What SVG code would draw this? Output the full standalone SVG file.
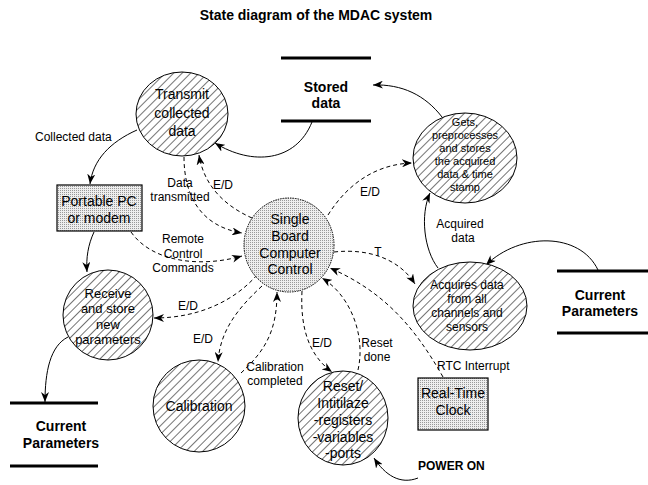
<svg xmlns="http://www.w3.org/2000/svg" width="648" height="485" viewBox="0 0 648 485">
<defs>
<pattern id="hatch" patternUnits="userSpaceOnUse" width="6" height="6" patternTransform="rotate(45)">
<rect width="6" height="6" fill="#fff"/>
<line x1="0" y1="0" x2="0" y2="6" stroke="#000" stroke-width="1.1"/>
</pattern>
<pattern id="dots" patternUnits="userSpaceOnUse" width="2" height="2">
<rect width="2" height="2" fill="#eeeeee"/>
<rect width="1" height="1" fill="#999"/>
</pattern>
<marker id="arr" markerUnits="userSpaceOnUse" markerWidth="10" markerHeight="8" refX="10" refY="4" orient="auto">
<path d="M0,0 L10,4 L0,8 L3,4 z" fill="#000"/>
</marker>
</defs>
<style>
text{font-family:"Liberation Sans",Arial,sans-serif;fill:#000}
.t{text-anchor:middle}
.b{font-weight:bold}
.n14{font-size:14px}
.n13{font-size:13px}
.n12{font-size:12px}
.n11{font-size:11px}
.lbl{font-size:12px}
.hc{fill:url(#hatch);stroke:#000;stroke-width:1}
.dc{fill:url(#dots);stroke:#000;stroke-width:1;stroke-dasharray:1.5,1}
.box{fill:url(#dots);stroke:#000;stroke-width:1.2}
.store{stroke:#000;stroke-width:3}
.sl{fill:none;stroke:#000;stroke-width:1;marker-end:url(#arr)}
.dl{fill:none;stroke:#000;stroke-width:1;stroke-dasharray:4,3;marker-end:url(#arr)}
</style>
<text class="t b" x="316" y="20" font-size="14">State diagram of the MDAC system</text>

<g id="connectors">
<path class="sl" d="M137,130 C110,142 93,160 90,184"/>
<path class="sl" d="M94,232 C88,245 86,258 87,272"/>
<path class="sl" d="M68,337 C50,346 45,372 45,402"/>
<path class="sl" d="M312,122 C296,162 252,166 215,143"/>
<path class="sl" d="M442,117 C425,95 402,84 373,85"/>
<path class="sl" d="M598,270 C580,232 520,232 486,265"/>
<path class="sl" d="M438,268 C424,250 420,215 430,193"/>
<path class="sl" d="M418,478 C400,485 385,475 374,458"/>
<path class="dl" d="M184,157 C184,195 200,226 242,233"/>
<path class="dl" d="M252,218 C225,206 204,186 199,155"/>
<path class="dl" d="M131,232 C152,262 200,268 242,256"/>
<path class="dl" d="M257,275 C235,300 200,318 154,318"/>
<path class="dl" d="M262,286 C236,310 220,332 218,362"/>
<path class="dl" d="M241,373 C266,350 277,330 277,292"/>
<path class="dl" d="M302,291 C300,330 310,356 332,372"/>
<path class="dl" d="M358,370 C366,335 350,295 322,278"/>
<path class="dl" d="M443,377 C412,322 380,290 330,268"/>
<path class="dl" d="M334,252 C370,248 400,260 415,284"/>
<path class="dl" d="M328,215 C350,180 380,164 412,163"/>
<text class="lbl" x="35" y="141">Collected data</text>
<text class="lbl t" x="180" y="187">Data</text>
<text class="lbl t" x="180" y="201">transmitted</text>
<text class="lbl t" x="223" y="189">E/D</text>
<text class="lbl t" x="183" y="243">Remote</text>
<text class="lbl t" x="183" y="258">Control</text>
<text class="lbl t" x="183" y="272">Commands</text>
<text class="lbl t" x="188" y="310">E/D</text>
<text class="lbl t" x="203" y="343">E/D</text>
<text class="lbl t" x="275" y="371">Calibration</text>
<text class="lbl t" x="275" y="385">completed</text>
<text class="lbl t" x="322" y="347">E/D</text>
<text class="lbl t" x="377" y="347">Reset</text>
<text class="lbl t" x="377" y="361">done</text>
<text class="lbl" x="437" y="370">RTC Interrupt</text>
<text class="lbl t" x="378" y="256">T</text>
<text class="lbl t" x="370" y="196">E/D</text>
<text class="lbl t" x="460" y="228">Acquired</text>
<text class="lbl t" x="463" y="242">data</text>
<text class="b" x="418" y="470" font-size="12">POWER ON</text>
</g>

<g id="stored-data">
<line class="store" x1="281" y1="58" x2="371" y2="58"/>
<line class="store" x1="281" y1="121" x2="371" y2="121"/>
<text class="t b n14" x="326" y="92">Stored</text>
<text class="t b n14" x="326" y="108">data</text>
</g>

<g id="transmit">
<ellipse class="hc" cx="182" cy="114" rx="46" ry="42"/>
<text class="t n14" x="182" y="99">Transmit</text>
<text class="t n14" x="182" y="118">collected</text>
<text class="t n14" x="182" y="136">data</text>
</g>

<g id="gets">
<ellipse class="hc" cx="465" cy="158" rx="52" ry="45"/>
<text class="t n11" x="465" y="126">Gets,</text>
<text class="t n11" x="465" y="139">preprocesses</text>
<text class="t n11" x="465" y="152">and stores</text>
<text class="t n11" x="465" y="165">the acquired</text>
<text class="t n11" x="465" y="178">data &amp; time</text>
<text class="t n11" x="465" y="191">stamp</text>
</g>

<g id="portable">
<rect class="box" x="57" y="185" width="85" height="46"/>
<text class="t n14" x="99" y="206">Portable PC</text>
<text class="t n14" x="99" y="223">or modem</text>
</g>

<g id="sbc">
<ellipse class="dc" cx="289" cy="245" rx="45" ry="47"/>
<text class="t n14" x="290" y="224">Single</text>
<text class="t n14" x="290" y="241">Board</text>
<text class="t n14" x="290" y="258">Computer</text>
<text class="t n14" x="290" y="274">Control</text>
</g>

<g id="acquires">
<ellipse class="hc" cx="470" cy="306" rx="57" ry="44"/>
<text class="t n12" x="467" y="289">Acquires data</text>
<text class="t n12" x="467" y="303">from all</text>
<text class="t n12" x="467" y="317">channels and</text>
<text class="t n12" x="467" y="331">sensors</text>
</g>

<g id="current-params-right">
<line class="store" x1="557" y1="271" x2="648" y2="271"/>
<line class="store" x1="557" y1="333" x2="648" y2="333"/>
<text class="t b n14" x="600" y="300">Current</text>
<text class="t b n14" x="600" y="316">Parameters</text>
</g>

<g id="receive">
<ellipse class="hc" cx="108" cy="315" rx="45" ry="45"/>
<text class="t n13" x="108" y="298">Receive</text>
<text class="t n13" x="108" y="313">and store</text>
<text class="t n13" x="108" y="329">new</text>
<text class="t n13" x="108" y="344">parameters</text>
</g>

<g id="current-params-left">
<line class="store" x1="10" y1="403" x2="98" y2="403"/>
<line class="store" x1="10" y1="466" x2="98" y2="466"/>
<text class="t b n14" x="61" y="431">Current</text>
<text class="t b n14" x="61" y="448">Parameters</text>
</g>

<g id="calibration">
<ellipse class="hc" cx="199" cy="406" rx="46" ry="46"/>
<text class="t n14" x="199" y="411">Calibration</text>
</g>

<g id="reset">
<ellipse class="hc" cx="343" cy="418" rx="45" ry="47"/>
<text class="t n14" x="343" y="391">Reset/</text>
<text class="t n14" x="343" y="408">Intitilaze</text>
<text class="t n14" x="343" y="425">-registers</text>
<text class="t n14" x="343" y="442">-variables</text>
<text class="t n14" x="343" y="458">-ports</text>
</g>

<g id="rtc">
<rect class="box" x="418" y="378" width="70" height="52"/>
<text class="t n14" x="453" y="398">Real-Time</text>
<text class="t n14" x="453" y="415">Clock</text>
</g>
</svg>
